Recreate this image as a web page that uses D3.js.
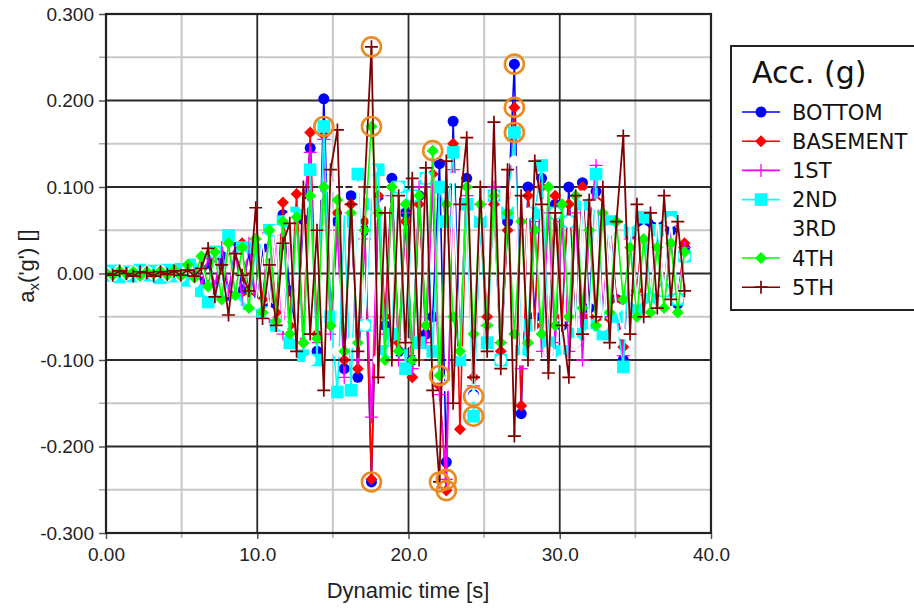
<!DOCTYPE html>
<html>
<head>
<meta charset="utf-8">
<script src="https://cdn.jsdelivr.net/npm/d3@7/dist/d3.min.js"></script>
<style>
  html, body { margin: 0; padding: 0; background: #fff; }
  svg { display: block; }
</style>
</head>
<body>
<svg id="chart" width="914" height="610"></svg>
<script>
// Acceleration records per level, sampled every 0.45 s
const sampleStep = 0.45;

const seriesNames = ["BOTTOM", "BASEMENT", "1ST", "2ND", "3RD", "4TH", "5TH"];

const bottom = [
  0, 0.001, -0.002, 0.002, -0.001, 0.002, -0.002, 0.001, -0.003, 0.002, -0.002, 0.003,
  -0.004, 0.006, -0.01, 0.012, -0.018, 0.02, -0.025, 0.03, -0.02, 0.024,
  -0.035, 0.03, -0.04, 0.05, 0.068, -0.02, -0.07, 0.062, 0.145, -0.09,
  0.202, -0.05, 0.06, -0.11, 0.09, -0.12, 0.05, -0.241, 0.085, -0.06,
  0.11, -0.09, 0.07, -0.1, 0.09, -0.07, -0.05, 0.127, -0.218, 0.176,
  -0.09, 0.11, -0.14, 0.06, -0.06, 0.09, -0.1, 0.06, 0.242, -0.162,
  0.1, -0.05, 0.11, -0.09, 0.08, -0.06, 0.1, -0.08, 0.105, -0.04,
  0.095, -0.06, 0.05, -0.03, -0.1, 0.045, -0.03, 0.055, -0.04, 0.06,
  -0.02, 0.05, -0.035, 0.03
];
const basement = [
  0.001, -0.001, 0.002, -0.002, 0.001, -0.001, 0.002, -0.002, 0.001, -0.003, 0.002, -0.001,
  0.004, -0.006, 0.012, -0.014, 0.02, -0.018, 0.028, -0.03, 0.035, -0.025,
  0.04, -0.03, 0.05, -0.045, 0.082, -0.06, 0.092, -0.08, 0.163, -0.07,
  0.16, -0.06, 0.07, -0.1, 0.08, -0.11, 0.06, -0.238, 0.09, -0.05,
  0.1, -0.08, 0.06, -0.12, 0.08, -0.06, 0.115, -0.13, -0.251, 0.15,
  -0.18, 0.1, -0.12, 0.07, -0.05, 0.08, -0.09, 0.05, 0.192, -0.153,
  0.09, -0.06, 0.1, -0.08, 0.09, -0.05, 0.08, -0.07, 0.1, -0.05,
  0.085, -0.055, 0.06, -0.03, -0.085, 0.045, -0.02, 0.065, -0.03, 0.05,
  -0.015, 0.06, -0.03, 0.035
];
const first = [
  -0.001, 0.002, -0.001, 0.001, -0.002, 0.002, -0.001, 0.001, -0.002, 0.002, -0.003, 0.002,
  -0.006, 0.008, -0.015, 0.02, -0.015, 0.03, -0.02, 0.025, -0.03, 0.035,
  -0.03, 0.04, -0.05, 0.045, -0.07, 0.06, -0.075, 0.08, 0.14, -0.08,
  0.155, -0.07, 0.05, -0.12, 0.07, -0.1, 0.04, -0.166, 0.08, -0.07,
  0.09, -0.1, 0.07, -0.11, 0.1, -0.08, 0.1, -0.14, -0.238, 0.12,
  -0.1, 0.09, -0.13, 0.08, -0.06, 0.1, -0.08, 0.07, 0.163, -0.11,
  -0.08, 0.06, -0.09, 0.07, -0.08, 0.06, -0.09, 0.07, -0.1, 0.05,
  0.125, -0.05, 0.055, -0.035, -0.095, 0.04, -0.025, 0.05, -0.035, 0.045,
  -0.02, 0.055, -0.03, 0.03
];
const second = [
  -0.002, 0.003, -0.004, 0.002, -0.003, 0.004, -0.002, 0.003, -0.005, 0.004, -0.003, 0.005,
  -0.008, 0.01, -0.02, -0.033, 0.025, -0.02, 0.044, -0.03, 0.03, -0.035,
  0.03, -0.045, 0.05, -0.06, 0.06, -0.08, 0.07, -0.095, 0.12, -0.1,
  0.17, -0.05, -0.137, 0.06, -0.135, 0.115, -0.06, 0.08, 0.12, -0.09,
  -0.07, 0.1, -0.11, 0.09, -0.08, 0.11, -0.09, 0.1, 0.06, 0.14,
  -0.1, 0.08, -0.165, 0.06, -0.08, 0.09, -0.1, 0.07, 0.163, -0.09,
  -0.06, 0.07, 0.125, -0.08, 0.07, -0.09, 0.06, -0.07, 0.08, -0.06,
  0.115, -0.07, 0.06, -0.05, -0.108, 0.05, -0.04, 0.065, -0.03, 0.05,
  -0.02, 0.065, -0.03, 0.02
];
const third = [
  0.002, -0.003, 0.004, -0.002, 0.003, -0.004, 0.003, -0.002, 0.004, -0.003, 0.002, -0.004,
  0.006, -0.01, 0.015, -0.02, 0.025, -0.02, 0.03, -0.035, 0.02, -0.03,
  -0.035, 0.04, -0.045, 0.05, -0.06, 0.065, -0.07, 0.08, -0.1, 0.09,
  -0.12, 0.1, -0.09, 0.11, -0.08, 0.1, -0.06, 0.12, -0.1, 0.08,
  -0.09, 0.1, -0.08, 0.09, -0.1, 0.11, 0.142, -0.12, -0.13, 0.11,
  -0.09, 0.1, -0.142, 0.07, -0.06, 0.09, -0.1, 0.08, 0.13, -0.1,
  0.07, -0.1, 0.08, -0.09, 0.07, -0.1, 0.06, -0.08, 0.09, -0.07,
  0.08, -0.06, 0.05, -0.04, -0.07, 0.06, -0.03, 0.05, -0.04, 0.065,
  -0.02, 0.06, -0.03, 0.02
];
const fourth = [
  0.001, -0.002, 0.003, -0.001, 0.002, -0.003, 0.002, -0.001, 0.003, -0.002, 0.004, -0.003,
  0.01, -0.005, 0.02, -0.015, 0.025, -0.03, 0.035, -0.025, 0.03, -0.04,
  0.04, -0.045, 0.05, -0.055, 0.06, -0.07, 0.065, -0.08, 0.09, -0.075,
  0.1, -0.06, 0.085, -0.09, 0.07, -0.08, 0.05, 0.17, 0.07, -0.1,
  0.1, -0.09, 0.08, -0.1, 0.09, -0.06, 0.142, -0.118, 0.08, -0.05,
  -0.09, 0.1, -0.07, 0.08, -0.06, 0.09, -0.08, 0.07, -0.07, 0.06,
  -0.08, 0.05, -0.07, 0.1, -0.06, 0.08, -0.05, 0.09, -0.04, 0.05,
  -0.06, 0.07, -0.045, 0.06, -0.03, 0.03, -0.05, 0.04, -0.045, 0.03,
  -0.04, 0.035, -0.045, 0.025
];
const fifth = [
  0, -0.002, 0.003, 0, -0.003, 0.002, 0.001, -0.003, 0.002, -0.001, 0.003, -0.002,
  0.004, -0.003, 0.006, 0.029, -0.027, 0.01, -0.048, 0.023, -0.002, -0.02,
  0.076, -0.052, 0.01, -0.06, 0.035, 0.058, -0.09, 0.1, -0.07, 0.05,
  -0.135, 0.12, 0.166, -0.1, 0.08, -0.09, 0.1, 0.262, -0.12, 0.07,
  -0.1, 0.09, -0.08, 0.11, -0.1, 0.122, -0.135, -0.241, 0.13, -0.15,
  0.08, 0.157, -0.12, 0.1, -0.09, 0.175, -0.11, 0.12, -0.188, 0.09,
  -0.1, 0.13, 0.08, -0.115, 0.07, -0.06, -0.12, 0.09, -0.07, 0.085,
  -0.05, 0.1, -0.08, 0.06, 0.159, -0.07, 0.08, -0.05, 0.07, -0.04,
  0.09, -0.03, 0.06, -0.02
];

const seriesValues = [bottom, basement, first, second, third, fourth, fifth];
const seriesColors = ["#0000ff", "#ff0000", "#ff00ff", "#00ffff", "#ffffff", "#00ff00", "#800000"];
const seriesMarkers = ["circle", "diamond", "plus", "square", "circle", "diamond", "plusBold"];

const xTickValues = [0, 10, 20, 30, 40];
const xTickLabels = ["0.00", "10.0", "20.0", "30.0", "40.0"];
const yTickValues = [0.3, 0.2, 0.1, 0, -0.1, -0.2, -0.3];
const yTickLabels = ["0.300", "0.200", "0.100", "0.00", "-0.100", "-0.200", "-0.300"];
const xMinorValues = [5, 15, 25, 35];
const yMinorValues = [0.25, 0.15, 0.05, -0.05, -0.15, -0.25];

const svg = d3.select("#chart");
const plot = { left: 106, right: 711, top: 14, bottom: 533 };

const x = d3.scaleLinear().domain([0, 40]).range([plot.left, plot.right]);
const y = d3.scaleLinear().domain([-0.3, 0.3]).range([plot.bottom, plot.top]);

const axisFont = "'Liberation Sans', Arial, sans-serif";
const legendFont = "'DejaVu Sans', Verdana, sans-serif";

// grid: light minor lines under dark major lines
const grid = svg.append("g");
grid.selectAll("line.xminor").data(xMinorValues).join("line")
  .attr("x1", d => x(d)).attr("x2", d => x(d))
  .attr("y1", plot.top).attr("y2", plot.bottom)
  .attr("stroke", "#c8c8c8").attr("stroke-width", 2);
grid.selectAll("line.yminor").data(yMinorValues).join("line")
  .attr("x1", plot.left).attr("x2", plot.right)
  .attr("y1", d => y(d)).attr("y2", d => y(d))
  .attr("stroke", "#c8c8c8").attr("stroke-width", 2);
grid.selectAll("line.xmajor").data(xTickValues.slice(1, -1)).join("line")
  .attr("x1", d => x(d)).attr("x2", d => x(d))
  .attr("y1", plot.top).attr("y2", plot.bottom)
  .attr("stroke", "#2a2a2a").attr("stroke-width", 1.8);
grid.selectAll("line.ymajor").data(yTickValues.slice(1, -1)).join("line")
  .attr("x1", plot.left).attr("x2", plot.right)
  .attr("y1", d => y(d)).attr("y2", d => y(d))
  .attr("stroke", "#2a2a2a").attr("stroke-width", 1.8);

// axes
const xAxis = d3.axisBottom(x).tickValues(xTickValues)
  .tickFormat((d, i) => xTickLabels[i]).tickSize(6).tickPadding(9);
const gx = svg.append("g").attr("transform", `translate(0,${plot.bottom})`).call(xAxis);
gx.select(".domain").remove();
gx.selectAll("line").attr("stroke", "#555").attr("stroke-width", 1.5);
gx.selectAll("text").attr("font-family", axisFont).attr("font-size", 19).attr("fill", "#222");
gx.selectAll("g.minor").data(xMinorValues).join("line")
  .attr("x1", d => x(d)).attr("x2", d => x(d)).attr("y1", 0).attr("y2", 5)
  .attr("stroke", "#aaa").attr("stroke-width", 1.5);

const yAxis = d3.axisLeft(y).tickValues(yTickValues)
  .tickFormat((d, i) => yTickLabels[i]).tickSize(7).tickPadding(5);
const gy = svg.append("g").attr("transform", `translate(${plot.left},0)`).call(yAxis);
gy.select(".domain").remove();
gy.selectAll("line").attr("stroke", "#555").attr("stroke-width", 1.5);
gy.selectAll("text").attr("font-family", axisFont).attr("font-size", 19).attr("fill", "#222");
gy.selectAll("g.minor").data(yMinorValues).join("line")
  .attr("x1", -7).attr("x2", 0).attr("y1", d => y(d)).attr("y2", d => y(d))
  .attr("stroke", "#aaa").attr("stroke-width", 1.5);

// marker shapes
function drawMarker(g, kind, color, cx, cy) {
  if (kind === "circle") {
    g.append("circle").attr("cx", cx).attr("cy", cy).attr("r", 5.5).attr("fill", color);
  } else if (kind === "diamond") {
    const h = 6;
    g.append("path").attr("d", `M${cx},${cy - h}L${cx + h},${cy}L${cx},${cy + h}L${cx - h},${cy}Z`).attr("fill", color);
  } else if (kind === "square") {
    g.append("rect").attr("x", cx - 6.3).attr("y", cy - 6.3).attr("width", 12.6).attr("height", 12.6).attr("fill", color);
  } else if (kind === "plus" || kind === "plusBold") {
    const h = 6.5;
    g.append("path").attr("d", `M${cx - h},${cy}H${cx + h}M${cx},${cy - h}V${cy + h}`)
      .attr("stroke", color).attr("stroke-width", kind === "plusBold" ? 1.7 : 1.3).attr("fill", "none");
  }
}

svg.append("clipPath").attr("id", "plotClip").append("rect")
  .attr("x", plot.left).attr("y", plot.top)
  .attr("width", plot.right - plot.left).attr("height", plot.bottom - plot.top);

const dataLayer = svg.append("g").attr("clip-path", "url(#plotClip)");
const line = d3.line().x(d => x(d.t)).y(d => y(d.v));

const seriesPoints = seriesValues.map(vals => vals.map((v, i) => ({ t: +(i * sampleStep).toFixed(2), v })));

seriesPoints.forEach((pts, s) => {
  const g = dataLayer.append("g");
  g.append("path").datum(pts).attr("d", line)
    .attr("fill", "none").attr("stroke", seriesColors[s])
    .attr("stroke-width", s === 6 ? 1.8 : 1.6).attr("stroke-linejoin", "round");
  pts.forEach(p => drawMarker(g, seriesMarkers[s], seriesColors[s], x(p.t), y(p.v)));
});

// orange rings on each series' extreme values
const extremes = [];
seriesPoints.forEach(pts => {
  extremes.push(d3.greatest(pts, d => d.v));
  extremes.push(d3.least(pts, d => d.v));
});
dataLayer.append("g").selectAll("circle").data(extremes).join("circle")
  .attr("cx", d => x(d.t)).attr("cy", d => y(d.v)).attr("r", 9.5)
  .attr("fill", "none").attr("stroke", "#ea8a1f").attr("stroke-width", 2.6);

// plot frame
svg.append("rect").attr("x", plot.left).attr("y", plot.top)
  .attr("width", plot.right - plot.left).attr("height", plot.bottom - plot.top)
  .attr("fill", "none").attr("stroke", "#222").attr("stroke-width", 2.2);

// axis titles
svg.append("text").attr("x", 408).attr("y", 598).attr("text-anchor", "middle")
  .attr("font-family", axisFont).attr("font-size", 22).attr("fill", "#222")
  .text("Dynamic time [s]");

const yTitle = svg.append("text")
  .attr("transform", "translate(34,266) rotate(-90)")
  .attr("text-anchor", "middle")
  .attr("font-family", axisFont).attr("font-size", 22).attr("fill", "#222");
yTitle.append("tspan").text("a");
yTitle.append("tspan").attr("font-size", 15).attr("dy", 5).text("x");
yTitle.append("tspan").attr("dy", -5).text("('g') []");

// legend
const legend = svg.append("g");
legend.append("rect").attr("x", 731).attr("y", 46).attr("width", 200).attr("height", 264)
  .attr("fill", "#fff").attr("stroke", "#222").attr("stroke-width", 2);
legend.append("text").attr("x", 752).attr("y", 83)
  .attr("font-family", legendFont).attr("font-size", 30).attr("fill", "#111")
  .text("Acc. (g)");
seriesNames.forEach((name, s) => {
  const cy = 112 + s * 29.2;
  const row = legend.append("g");
  row.append("line").attr("x1", 742).attr("x2", 780).attr("y1", cy).attr("y2", cy)
    .attr("stroke", seriesColors[s]).attr("stroke-width", 1.6);
  drawMarker(row, seriesMarkers[s], seriesColors[s], 761, cy);
  row.append("text").attr("x", 792).attr("y", cy).attr("dy", "0.36em")
    .attr("font-family", legendFont).attr("font-size", 21).attr("fill", "#111")
    .text(name);
});
</script>
</body>
</html>
